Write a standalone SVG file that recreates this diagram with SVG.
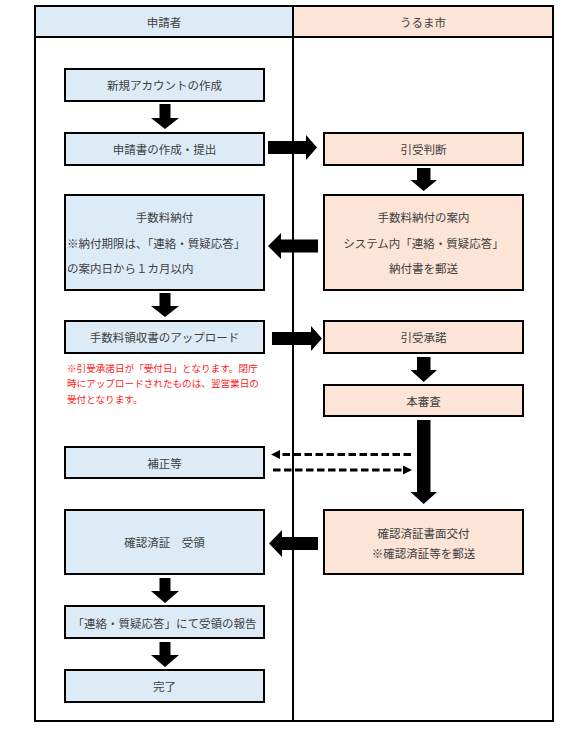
<svg xmlns="http://www.w3.org/2000/svg" width="586" height="729" viewBox="0 0 586 729">
<style>
  .bg{fill:#ffffff}
  .frame{fill:none;stroke:#000;stroke-width:2}
  .ap{fill:#DDEBF7;stroke:#000;stroke-width:2}
  .ct{fill:#FCE4D6;stroke:#000;stroke-width:2}
  .hap{fill:#DDEBF7}
  .hct{fill:#FCE4D6}
  text{font-family:"Noto Sans CJK JP","Noto Sans CJK SC",sans-serif;font-size:11.5px;fill:#404040;dominant-baseline:central}
  .c{text-anchor:middle}
  .red{fill:#FF2020;font-size:9.6px}
  .blk{fill:#000}
  .dash{fill:none;stroke:#000;stroke-width:2.8;stroke-dasharray:7.5 3.5}
</style>
<rect class="bg" x="0" y="0" width="586" height="729"/>

<g id="header">
  <rect class="hap" x="35" y="6" width="258" height="31"/>
  <rect class="hct" x="293" y="6" width="260" height="31"/>
  <text class="c" x="164" y="21.5">申請者</text>
  <text class="c" x="423" y="21.5">うるま市</text>
</g>
<g id="lanes">
  <rect class="frame" x="35" y="6" width="518" height="715"/>
  <line x1="35" y1="37" x2="553" y2="37" stroke="#000" stroke-width="2"/>
  <line x1="293" y1="6" x2="293" y2="721" stroke="#000" stroke-width="2"/>
</g>

<g id="n1"><rect class="ap" x="65" y="69" width="199" height="32"/><text class="c" x="164.5" y="85">新規アカウントの作成</text></g>
<g id="n2"><rect class="ap" x="65" y="133" width="199" height="32"/><text class="c" x="164.5" y="149">申請書の作成・提出</text></g>
<g id="n3"><rect class="ct" x="324" y="133" width="199" height="32"/><text class="c" x="423.5" y="149">引受判断</text></g>
<g id="n4"><rect class="ap" x="65" y="195" width="199" height="95"/>
  <text class="c" x="164.5" y="216.5">手数料納付</text>
  <text x="67" y="242.5">※納付期限は、「連絡・質疑応答」</text>
  <text x="67" y="268">の案内日から１カ月以内</text>
</g>
<g id="n5"><rect class="ct" x="324" y="195" width="199" height="95"/>
  <text class="c" x="423.5" y="216.5">手数料納付の案内</text>
  <text class="c" x="423.5" y="242.5">システム内「連絡・質疑応答」</text>
  <text class="c" x="423.5" y="268">納付書を郵送</text>
</g>
<g id="n6"><rect class="ap" x="65" y="321" width="199" height="32"/><text class="c" x="164.5" y="337">手数料領収書のアップロード</text></g>
<g id="note">
  <text class="red" x="67" y="367.7">※引受承諾日が「受付日」となります。閉庁</text>
  <text class="red" x="67" y="383.3">時にアップロードされたものは、翌営業日の</text>
  <text class="red" x="67" y="399">受付となります。</text>
</g>
<g id="n7"><rect class="ct" x="324" y="321" width="199" height="32"/><text class="c" x="423.5" y="337">引受承諾</text></g>
<g id="n8"><rect class="ct" x="324" y="385" width="199" height="31"/><text class="c" x="423.5" y="400.5">本審査</text></g>
<g id="n9"><rect class="ap" x="65" y="447" width="199" height="31"/><text class="c" x="164.5" y="462.5">補正等</text></g>
<g id="n10"><rect class="ap" x="65" y="510" width="199" height="64"/><text class="c" x="164.5" y="542">確認済証　受領</text></g>
<g id="n11"><rect class="ct" x="324" y="510" width="199" height="64"/>
  <text class="c" x="423.5" y="532.5">確認済証書面交付</text>
  <text class="c" x="423.5" y="552.5">※確認済証等を郵送</text>
</g>
<g id="n12"><rect class="ap" x="65" y="606" width="199" height="32"/><text class="c" x="164.5" y="622.5">「連絡・質疑応答」にて受領の報告</text></g>
<g id="n13"><rect class="ap" x="65" y="670" width="199" height="32"/><text class="c" x="164.5" y="686">完了</text></g>

<g id="connectors">
  <polygon class="blk" points="159.5,104 170.5,104 170.5,118 179,118 165,129 151,118 159.5,118"/>
  <polygon class="blk" points="159.5,293 170.5,293 170.5,306 179,306 165,317 151,306 159.5,306"/>
  <polygon class="blk" points="159.5,578 170.5,578 170.5,591 179,591 165,603 151,591 159.5,591"/>
  <polygon class="blk" points="159.5,642 170.5,642 170.5,655 179,655 165,667 151,655 159.5,655"/>
  <polygon class="blk" points="417,168 430.5,168 430.5,180 437,180 423.7,191 410.5,180 417,180"/>
  <polygon class="blk" points="417,357 430.5,357 430.5,370 437,370 423.7,382 410.5,370 417,370"/>
  <polygon class="blk" points="417,420 430.5,420 430.5,492 437,492 423.7,504 410.5,492 417,492"/>
  <polygon class="blk" points="268,141 306,141 306,135 317,147.5 306,160 306,154 268,154"/>
  <polygon class="blk" points="272,332 311,332 311,326 322,338.5 311,351 311,345 272,345"/>
  <polygon class="blk" points="318,239.5 281,239.5 281,233 268,246 281,259 281,252.5 318,252.5"/>
  <polygon class="blk" points="318,537 282,537 282,530 269,543.5 282,557 282,550 318,550"/>
  <line class="dash" x1="411" y1="454.5" x2="279" y2="454.5"/>
  <polygon class="blk" points="280,450 271,454.5 280,459"/>
  <line class="dash" x1="273" y1="470" x2="404" y2="470"/>
  <polygon class="blk" points="403,465.5 412,470 403,474.5"/>
</g>
</svg>
